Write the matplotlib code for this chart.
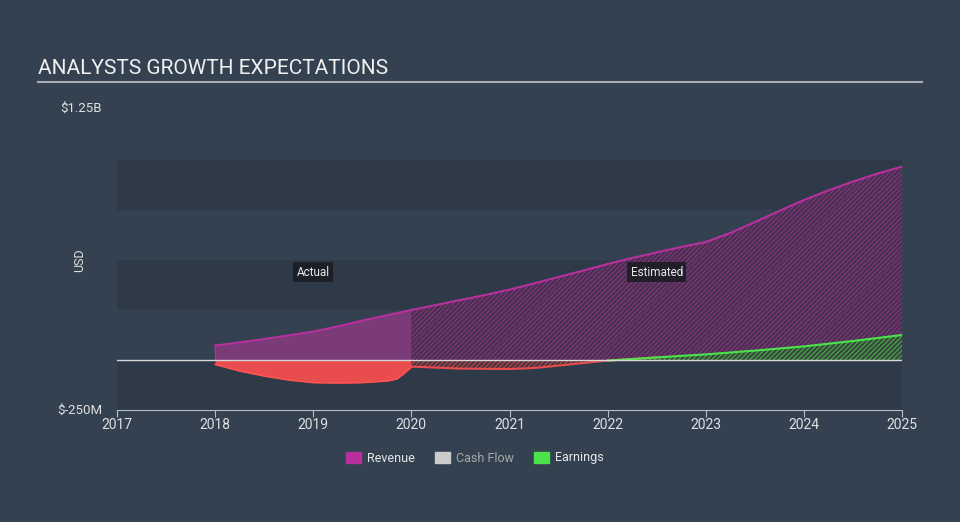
import numpy as np
import matplotlib
matplotlib.use("Agg")
import matplotlib.pyplot as plt
from matplotlib.patches import Patch

plt.rcParams['font.family'] = ['Roboto', 'DejaVu Sans']
plt.rcParams['hatch.linewidth'] = 0.7

# values in millions USD
rev_act_x = [2018.0, 2018.25, 2018.5, 2018.75, 2019.0, 2019.25, 2019.5, 2019.75, 2020.0]
rev_act_y = [72, 88, 105, 123, 142, 168, 197, 224, 250]

rev_est_x = [2020.0, 2020.25, 2020.5, 2020.75, 2021.0, 2021.25, 2021.5, 2021.75, 2022.0,
             2022.25, 2022.5, 2022.75, 2023.0, 2023.25, 2023.5, 2023.75, 2024.0,
             2024.25, 2024.5, 2024.75, 2025.0]
rev_est_y = [250, 275, 300, 325, 352, 383, 415, 447, 480,
             510, 538, 565, 590, 635, 690, 745, 800,
             848, 892, 932, 967]

earn_act_x = [2018.0, 2018.25, 2018.5, 2018.75, 2019.0, 2019.25, 2019.5, 2019.75, 2019.85, 2019.92, 2020.0]
earn_act_y = [-22, -55, -80, -100, -113, -115, -113, -105, -95, -70, -35]

earn_est_x = [2020.0, 2020.5, 2021.0, 2021.25, 2021.5, 2021.75, 2022.0, 2022.5, 2023.0,
              2023.5, 2024.0, 2024.5, 2025.0]
earn_est_y = [-33, -43, -45, -40, -28, -15, -3, 13, 28, 47, 68, 95, 125]

years = list(range(2017, 2026))
legend_names = ["Revenue", "Cash Flow", "Earnings"]

bg = '#334151'
band = '#2e3a48'
rev_line = '#b8309e'
rev_fill = '#7b3a78'
red = '#e84c4c'
green = '#4be34b'

fig = plt.figure(figsize=(9.6, 5.22), dpi=100, facecolor=bg)
ax = fig.add_axes([117/960, 112/522, (902-117)/960, 300/522])
ax.set_facecolor(bg)
ax.set_xlim(2017, 2025)
ax.set_ylim(-250, 1250)

# alternating bands
for lo in [-250, 250, 750]:
    ax.axhspan(lo, lo + 250, color=band, lw=0, zorder=0)

# revenue actual
ax.fill_between(rev_act_x, 0, rev_act_y, color=rev_fill, lw=0, zorder=2)
ax.plot(rev_act_x, rev_act_y, color=rev_line, lw=1.5, zorder=4)
ax.plot([2018, 2018], [0, rev_act_y[0]], color=rev_line, lw=1, zorder=4)

# revenue estimated (hatched)
ax.fill_between(rev_est_x, 0, rev_est_y, facecolor='#48304f', edgecolor='#8e3486',
                hatch='/' * 7, lw=0, zorder=2)
ax.plot(rev_est_x, rev_est_y, color=rev_line, lw=1.5, zorder=4)

# earnings actual
ax.fill_between(earn_act_x, 0, earn_act_y, color=red, lw=0, zorder=3)
ax.plot(earn_act_x, earn_act_y, color='#ff5252', lw=1.2, zorder=4)

# earnings estimated
ex = np.array(earn_est_x)
ey = np.array(earn_est_y)
ax.fill_between(ex, 0, ey, where=ey <= 0, interpolate=True, facecolor='#4a3442',
                edgecolor='#c84545', hatch='/' * 7, lw=0, zorder=3)
ax.fill_between(ex, 0, ey, where=ey >= 0, interpolate=True, facecolor='#384a3e',
                edgecolor='#48b848', hatch='/' * 7, lw=0, zorder=3)
ax.plot(ex[:8], ey[:8], color=red, lw=1.5, zorder=4)
ax.plot(ex[6:], ey[6:], color=green, lw=1.5, zorder=4)

ax.axhline(0, color='#d8d8d8', lw=1, zorder=5)

# labels
box = dict(facecolor='#1c1c24', edgecolor='none', pad=2.5, alpha=0.9)
ax.text(2019.0, 440, "Actual", color='#e8e8e8', fontsize=8.5, ha='center', va='center', bbox=box, zorder=6)
ax.text(2022.5, 440, "Estimated", color='#e8e8e8', fontsize=8.5, ha='center', va='center', bbox=box, zorder=6)

# axes styling
for s in ['top', 'right', 'left']:
    ax.spines[s].set_visible(False)
ax.spines['bottom'].set_color('#b8bec6')
ax.set_xticks(years)
ax.set_xticklabels([str(y) for y in years])
ax.tick_params(axis='x', colors='#b8bec6', labelcolor='#e0e0e0', labelsize=10, length=5, pad=1)
ax.set_yticks([])

fig.text(102/960, 1 - 108/522, "$1.25B", color='#e0e0e0', fontsize=9.5, ha='right', va='center')
fig.text(102/960, 1 - 410/522, "$-250M", color='#e0e0e0', fontsize=9.5, ha='right', va='center')
fig.text(80/960, 1 - 260/522, "USD", color='#e0e0e0', fontsize=9, ha='center', va='center', rotation=90)

# title
fig.text(38/960, 1 - 68/522, "ANALYSTS GROWTH EXPECTATIONS", color='#f0f0f0', fontsize=15, ha='left', va='center')
fig.add_artist(plt.Line2D([38/960, 922/960], [1 - 82/522, 1 - 82/522], color='#a8adb3', lw=1.5))

# legend
handles = [Patch(color=rev_line), Patch(color='#cccccc'), Patch(color=green)]
leg = fig.legend(handles, legend_names, loc='center', bbox_to_anchor=(475/960, 1 - 458/522), ncol=3,
                 frameon=False, fontsize=9, handlelength=1.2, handleheight=1.0, columnspacing=1.6, handletextpad=0.5)
for t, c in zip(leg.get_texts(), ['#e8e8e8', '#a8a8a8', '#e8e8e8']):
    t.set_color(c)

fig.savefig("out.png", dpi=100, facecolor=bg)
